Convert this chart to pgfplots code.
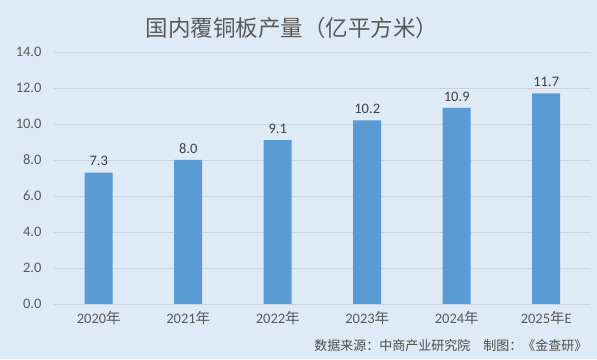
\documentclass[border=0pt]{standalone}
\usepackage{pgfplots}
\pgfplotsset{compat=1.18}
\usepackage{fontspec}
\setmainfont{Carlito}
\newfontfamily\cjk{Noto Sans CJK SC}
\definecolor{bg}{HTML}{DEEBF7}
\definecolor{barblue}{HTML}{5B9BD5}
\definecolor{gridc}{HTML}{C9D3DE}
\definecolor{txt}{HTML}{595959}
\begin{document}
\begin{tikzpicture}[x=1pt,y=1pt]
\fill[bg] (0,0) rectangle (597,359);
\node[font=\cjk\fontsize{22.5}{26}\selectfont, text=txt] at (292,331) {国内覆铜板产量（亿平方米）};
\begin{axis}[
  at={(54pt,55pt)}, anchor=south west,
  scale only axis, width=537pt, height=252pt,
  xmin=-0.5, xmax=5.5, ymin=0, ymax=14,
  ytick={0,2,...,14},
  yticklabel style={xshift=-9pt, /pgf/number format/fixed, /pgf/number format/fixed zerofill, /pgf/number format/precision=1},
  /pgf/number format/assume math mode=true,
  xtick={0,1,2,3,4,5},
  xticklabels={2020{\cjk 年},2021{\cjk 年},2022{\cjk 年},2023{\cjk 年},2024{\cjk 年},2025{\cjk 年}E},
  ticklabel style={font=\fontsize{14.5}{16}\selectfont, text=txt},
  xticklabel style={yshift=-4pt},
  major tick length=0pt,
  axis line style={draw=none},
  ymajorgrids, grid style={gridc, line width=0.8pt},
  axis background/.style={fill=bg},
  ybar, bar width=28pt,
  nodes near coords,
  nodes near coords style={font=\fontsize{14.5}{16}\selectfont, text=black!75, yshift=3pt, /pgf/number format/fixed, /pgf/number format/fixed zerofill, /pgf/number format/precision=1},
  point meta=explicit,
]
\addplot[fill=barblue, draw=none] coordinates {
(0,7.3) [7.3] (1,8.0) [8.0] (2,9.1) [9.1] (3,10.2) [10.2] (4,10.9) [10.9] (5,11.7) [11.7]};
\end{axis}
\node[anchor=east, font=\cjk\fontsize{13}{15}\selectfont, text=black!70] at (591,13) {数据来源：中商产业研究院\quad 制图：《金查研》};
\end{tikzpicture}
\end{document}
